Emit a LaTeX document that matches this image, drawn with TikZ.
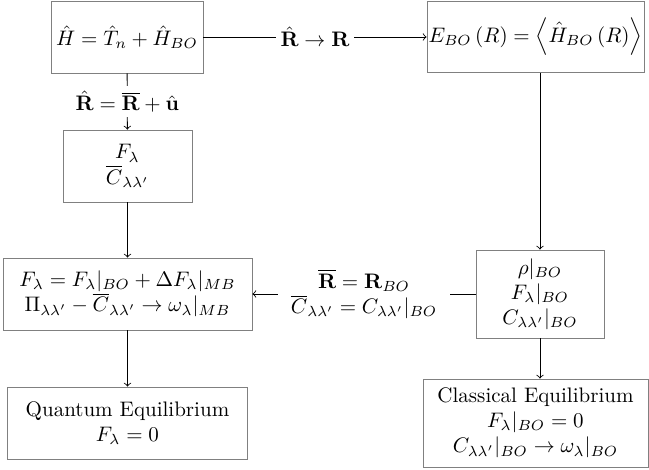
\documentclass[tikz,border=0pt]{standalone}
\usepackage{amsmath}
\begin{document}
\begin{tikzpicture}[x=0.476pt,y=-0.476pt,
  box/.style={draw=black!50, align=center, inner sep=0pt},
  conn/.style={->, black},
  lab/.style={fill=white, inner sep=2pt, align=center}]
\useasboundingbox (0,0) rectangle (649,470);
\node[box, minimum width=72.35pt, minimum height=34.27pt] (h) at (127,37) {$\hat{H}=\hat{T}_n+\hat{H}_{BO}$};
\node[box, minimum width=103.29pt, minimum height=33.8pt] (e) at (535.5,37) {$E_{BO}\left(R\right)=\left\langle \hat{H}_{BO}\left(R\right)\right\rangle$};
\node[box, minimum width=61.4pt, minimum height=34.27pt] (f) at (127.5,166) {$F_\lambda$\\$\overline{C}_{\lambda\lambda'}$};
\node[box, minimum width=118.52pt, minimum height=34.27pt] (mb) at (127.5,294) {$F_\lambda=F_\lambda|_{BO}+\Delta F_\lambda|_{MB}$\\$\Pi_{\lambda\lambda'}-\overline{C}_{\lambda\lambda'}\rightarrow\omega_\lambda|_{MB}$};
\node[box, minimum width=60.93pt, minimum height=41.89pt] (bo) at (540,294) {$\rho|_{BO}$\\$F_\lambda|_{BO}$\\$C_{\lambda\lambda'}|_{BO}$};
\node[box, minimum width=114.24pt, minimum height=34.27pt] (q) at (127.5,423) {Quantum Equilibrium\\$F_\lambda=0$};
\node[box, minimum width=107.1pt, minimum height=41.89pt] (cl) at (535.5,423) {Classical Equilibrium\\$F_\lambda|_{BO}=0$\\$C_{\lambda\lambda'}|_{BO}\rightarrow\omega_\lambda|_{BO}$};
\draw[conn] (h) -- node[lab] {$\hat{\mathbf{R}}\rightarrow\mathbf{R}$} (e);
\draw[conn] (h) -- node[lab] {$\hat{\mathbf{R}}=\overline{\mathbf{R}}+\hat{\mathbf{u}}$} (f);
\draw[conn] (f) -- (mb);
\draw[conn] (mb) -- (q);
\draw[conn] (e.south -| bo.north) -- (bo.north);
\draw[conn] (bo.west) -- node[lab, inner xsep=6pt, inner ysep=1pt] {$\overline{\mathbf{R}}=\mathbf{R}_{BO}$\\$\overline{C}_{\lambda\lambda'}=C_{\lambda\lambda'}|_{BO}$} (mb.east |- bo.west);
\draw[conn] (bo.south) -- (bo.south |- cl.north);
\end{tikzpicture}
\end{document}
